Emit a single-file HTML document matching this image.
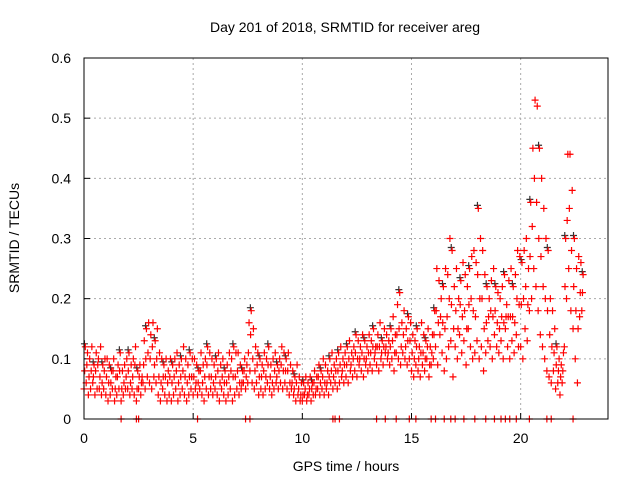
<!DOCTYPE html>
<html><head><meta charset="utf-8"><style>
body{margin:0;background:#fff;}
svg{display:block;font-family:"Liberation Sans",sans-serif;}
</style></head><body>
<svg id="chart" width="640" height="480">
<text x="345" y="32" text-anchor="middle" font-size="14">Day 201 of 2018, SRMTID for receiver areg</text>
<text x="346" y="471" text-anchor="middle" font-size="14">GPS time / hours</text>
<text x="19" y="238" text-anchor="middle" font-size="14" transform="rotate(-90 19 238)">SRMTID / TECUs</text>
<g id="grid"></g><g id="axes"></g><g id="marks"></g>
<rect x="84" y="58" width="524" height="361" fill="none" stroke="#000" stroke-width="1"/>
</svg>
<script>
const xTicks=[0,5,10,15,20];
const yTicks=[0,0.1,0.2,0.3,0.4,0.5,0.6];
const yTickLabels=["0","0.1","0.2","0.3","0.4","0.5","0.6"];
const t0=0, dt=0.1;
const hiVals=[.12,.11,.10,.12,.09,.11,.10,.12,.09,.10,
.10,.09,.08,.10,.07,.09,.11,.08,.09,.10,
.11,.09,.10,.12,.08,.09,.07,.13,.15,.16,
.14,.16,.13,.15,.11,.10,.09,.10,.08,.10,
.09,.10,.11,.09,.10,.12,.10,.09,.11,.10,
.10,.09,.08,.11,.09,.10,.12,.11,.10,.09,
.10,.11,.09,.10,.08,.09,.11,.10,.12,.11,
.11,.09,.08,.10,.09,.16,.18,.15,.12,.11,
.10,.09,.11,.10,.12,.09,.10,.11,.09,.10,
.12,.11,.10,.11,.09,.08,.07,.09,.07,.06,
.06,.07,.06,.07,.06,.08,.07,.09,.08,.10,
.09,.08,.10,.11,.09,.10,.11,.12,.10,.11,
.12,.13,.11,.12,.14,.13,.12,.14,.13,.12,
.14,.13,.15,.12,.14,.16,.13,.15,.14,.13,
.15,.17,.14,.19,.21,.16,.18,.15,.17,.16,
.14,.13,.15,.12,.16,.14,.13,.15,.12,.14,
.18,.25,.23,.20,.22,.25,.24,.30,.28,.22,
.25,.20,.23,.26,.24,.22,.25,.27,.28,.26,
.35,.30,.28,.24,.22,.20,.23,.25,.22,.21,
.20,.22,.24,.19,.23,.25,.22,.24,.28,.27,
.26,.28,.30,.25,.36,.45,.53,.52,.45,.40,
.35,.30,.28,.20,.18,.15,.12,.10,.09,.11,
.30,.44,.44,.38,.30,.25,.27,.26,.24];
const midVals=[.08,.09,.07,.08,.07,.08,.09,.07,.06,.08,
.07,.06,.06,.08,.05,.07,.08,.05,.06,.07,
.08,.06,.07,.09,.05,.07,.06,.09,.10,.11,
.10,.12,.09,.10,.07,.06,.07,.07,.06,.07,
.06,.07,.08,.06,.07,.08,.07,.06,.07,.07,
.07,.06,.06,.08,.06,.07,.09,.07,.07,.06,
.07,.08,.06,.07,.06,.06,.07,.08,.07,.07,
.08,.06,.06,.08,.07,.11,.14,.10,.08,.09,
.07,.07,.08,.07,.09,.07,.06,.08,.07,.08,
.09,.08,.08,.08,.06,.06,.05,.06,.05,.04,
.04,.05,.04,.05,.05,.06,.05,.07,.06,.07,
.06,.06,.07,.08,.07,.08,.08,.09,.08,.09,
.09,.10,.09,.10,.11,.10,.10,.11,.10,.10,
.11,.11,.12,.11,.12,.12,.11,.12,.12,.11,
.12,.13,.11,.14,.15,.12,.14,.12,.13,.13,
.11,.10,.12,.10,.11,.11,.10,.12,.09,.11,
.14,.18,.16,.17,.16,.15,.17,.20,.19,.15,
.18,.15,.19,.17,.18,.15,.19,.20,.18,.17,
.24,.20,.20,.15,.16,.17,.18,.17,.18,.16,
.15,.17,.16,.17,.17,.17,.17,.16,.20,.19,
.19,.20,.22,.19,.27,.32,.40,.36,.30,.27,
.22,.20,.18,.14,.12,.11,.09,.08,.07,.08,
.22,.33,.35,.28,.22,.18,.15,.21,.21];
const loVals=[.05,.06,.04,.05,.06,.04,.05,.05,.04,.05,
.04,.03,.04,.05,.03,.04,.05,.03,.04,.05,
.05,.04,.05,.04,.03,.05,.04,.06,.05,.07,
.06,.05,.07,.06,.04,.03,.05,.04,.03,.04,
.03,.04,.05,.03,.04,.05,.04,.03,.04,.05,
.04,.05,.04,.05,.04,.03,.05,.04,.05,.04,
.05,.04,.03,.05,.04,.03,.04,.05,.03,.04,
.05,.04,.05,.06,.05,.06,.08,.06,.05,.06,
.04,.05,.04,.05,.06,.05,.04,.05,.06,.05,
.06,.05,.06,.05,.04,.05,.04,.03,.04,.03,
.03,.04,.03,.04,.03,.04,.04,.05,.04,.05,
.04,.05,.04,.06,.05,.06,.05,.06,.07,.06,
.07,.06,.08,.07,.08,.07,.09,.08,.07,.09,
.08,.09,.08,.10,.09,.08,.10,.09,.11,.10,
.09,.10,.08,.11,.10,.09,.11,.10,.09,.10,
.08,.07,.09,.08,.07,.09,.08,.10,.07,.09,
.10,.12,.09,.14,.11,.08,.10,.12,.13,.07,
.12,.10,.14,.11,.13,.09,.15,.12,.10,.11,
.13,.10,.12,.08,.11,.13,.12,.10,.14,.12,
.11,.13,.10,.15,.12,.10,.13,.11,.14,.12,
.12,.10,.15,.13,.18,.20,.25,.22,.18,.14,
.12,.10,.08,.07,.06,.08,.05,.06,.04,.06,
.12,.20,.25,.18,.15,.10,.06,.17,.18];
const zeroTimes=[1.7,2.4,2.5,5.2,7.4,7.6,11.4,11.5,11.7,13.4,13.8,14.3,14.9,15.2,15.9,16.1,16.5,16.8,17.0,17.4,17.9,18.4,18.8,19.1,19.3,19.5,19.8,20.4,21.2,21.4,22.4];

const NS="http://www.w3.org/2000/svg";
const X0=84,X1=608,Y0=419,Y1=58,XMAX=24,YMAX=0.6;
function sx(t){return X0+(X1-X0)*t/XMAX;}
function sy(v){return Y0-(Y0-Y1)*v/YMAX;}
function mk(tag,attrs,parent){const e=document.createElementNS(NS,tag);for(const k in attrs)e.setAttribute(k,attrs[k]);parent.appendChild(e);return e;}
const grid=document.getElementById('grid'),axes=document.getElementById('axes'),marks=document.getElementById('marks');
xTicks.forEach(t=>{
  const x=sx(t);
  if(t>0){const g=mk('line',{x1:x,x2:x,y1:Y1,y2:Y0,stroke:'#aaa','stroke-dasharray':'2,3'},grid);
  
  }
  const tk=mk('line',{x1:x,x2:x,y1:Y0,y2:Y0-6,stroke:'#000'},axes);
  
  
  const lb=mk('text',{x:x,y:443,'text-anchor':'middle','font-size':14},axes);
  lb.textContent=String(t);
  
  
});
yTicks.forEach((v,i)=>{
  const y=sy(v);
  if(i>0&&i<yTicks.length-1){const g=mk('line',{x1:X0,x2:X1,y1:y,y2:y,stroke:'#aaa','stroke-dasharray':'2,3'},grid);
  
  }
  const tk=mk('line',{x1:X0,x2:X0+6,y1:y,y2:y,stroke:'#000'},axes);
  
  
  const lb=mk('text',{x:71,y:y+5,'text-anchor':'end','font-size':14},axes);
  lb.textContent=yTickLabels[i];
  
  
});
function plus(t,v,color,name){
  const x=sx(t),y=sy(v),r=3.5;
  const p=mk('path',{d:`M${x-r} ${y}H${x+r}M${x} ${y-r}V${y+r}`,stroke:color,'stroke-width':1.2,fill:'none'},marks);
  
  
}
hiVals.forEach((v,i)=>{ if(i%4===0) plus(t0+dt*i+0.02,v+0.005,'#333','point-black'); });
[loVals,midVals,hiVals].forEach((arr,k)=>{
  arr.forEach((v,i)=>plus(t0+dt*i+k*0.03,v,'#f00','point-red'));
});
zeroTimes.forEach(t=>plus(t,0,'#f00','point-zero'));
</script>
</body></html>
